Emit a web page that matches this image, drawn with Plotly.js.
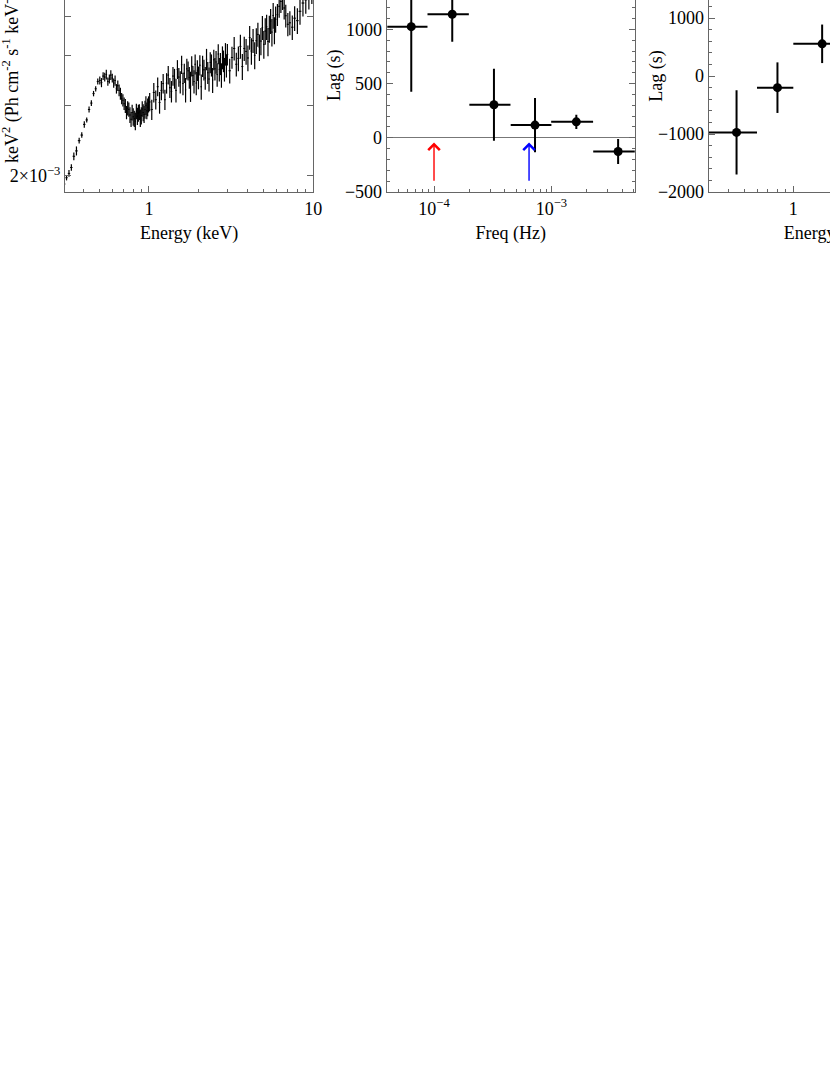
<!DOCTYPE html>
<html>
<head>
<meta charset="utf-8">
<script src="https://cdn.plot.ly/plotly-3.0.1.min.js"></script>
<style>
  html, body { margin: 0; padding: 0; overflow: hidden; background: #fff; }
  #grafico { position: absolute; left: 0; top: -70px; width: 1000px; height: 1145px; }
</style>
</head>
<body>
<div id="grafico"></div>
<script>
// Espectro (keV^2 flux, en unidades de 1e-3)
const energia = [
  0.305, 0.315, 0.326, 0.337, 0.349, 0.362, 0.376, 0.390, 0.404, 0.418, 0.432, 0.446, 0.460, 0.474, 0.488,
  0.502, 0.514, 0.526, 0.538, 0.550, 0.562, 0.574, 0.586, 0.598, 0.610, 0.622, 0.634, 0.646, 0.658,
  0.670, 0.682, 0.694, 0.706, 0.718, 0.730, 0.742, 0.754, 0.766, 0.778, 0.790, 0.802, 0.814, 0.826,
  0.838, 0.850, 0.862, 0.874, 0.886, 0.898, 0.910, 0.922, 0.934, 0.946, 0.958, 0.970, 0.982, 0.994,
  1.01, 1.04, 1.07, 1.10, 1.13, 1.16, 1.19, 1.22, 1.25, 1.28, 1.31, 1.34, 1.37, 1.40, 1.43, 1.46,
  1.49, 1.52, 1.55, 1.58, 1.61, 1.64, 1.67, 1.70, 1.73, 1.76, 1.79, 1.82, 1.85, 1.88, 1.91, 1.94,
  1.97, 2.00, 2.04, 2.08, 2.12, 2.16, 2.20, 2.24, 2.28, 2.32, 2.36, 2.40, 2.44, 2.48, 2.52, 2.56,
  2.60, 2.64, 2.68, 2.72, 2.76, 2.80, 2.84, 2.88, 2.92, 2.96,
  3.0, 3.1, 3.2, 3.3, 3.4, 3.5, 3.6, 3.7, 3.8, 3.9, 4.0, 4.1, 4.2, 4.3, 4.4, 4.5, 4.6, 4.7, 4.8, 4.9,
  5.0, 5.1, 5.2, 5.3, 5.4, 5.5, 5.6, 5.7, 5.8, 5.9,
  6.05, 6.2, 6.35, 6.5, 6.65, 6.8, 7.0, 7.2, 7.45, 7.7, 8.0, 8.3, 8.65, 9.0, 9.4, 9.8
];
const flujo = [
  1.91, 1.98, 2.03, 2.10, 2.24, 2.31, 2.45, 2.53, 2.69, 2.76, 2.93, 3.04, 3.21, 3.30, 3.44,
  3.46, 3.42, 3.55, 3.53, 3.58, 3.44, 3.49, 3.57, 3.51, 3.41, 3.46, 3.30, 3.36, 3.27,
  3.21, 3.12, 3.09, 3.03, 2.99, 2.88, 2.95, 2.93, 2.84, 2.77, 2.88, 2.81, 2.78, 2.74,
  2.90, 2.82, 2.87, 2.89, 2.79, 2.83, 2.94, 2.88, 2.85, 2.93, 3.00, 2.91, 2.97, 3.02,
  3.06, 2.93, 3.23, 3.10, 3.34, 3.05, 3.27, 3.40, 3.10, 3.41, 3.57, 3.32, 3.25, 3.55, 3.50, 3.27,
  3.69, 3.53, 3.43, 3.79, 3.40, 3.61, 3.28, 3.70, 3.66, 3.52, 3.35, 3.76, 3.56, 3.44, 3.80, 3.41,
  3.67, 3.52, 3.78, 3.34, 3.76, 3.68, 3.51, 3.91, 3.62, 3.49, 3.84, 3.78, 3.47, 3.90, 3.70, 3.85,
  3.58, 4.03, 3.69, 3.81, 3.57, 3.95, 3.87, 3.69, 4.03, 3.77,
  4.02, 3.66, 3.95, 4.16, 3.80, 3.93, 4.21, 3.75, 4.16, 4.09, 3.94, 4.43, 4.10, 4.35, 4.00, 4.35, 4.51, 4.19, 4.34, 4.69,
  4.26, 4.60, 4.71, 4.33, 4.66, 4.87, 4.57, 5.03, 4.62, 4.92,
  5.05, 5.30, 5.45, 5.55, 5.25, 5.02, 4.78, 4.82, 4.70, 4.95, 4.88, 5.15, 5.40, 5.50, 5.65, 5.85
];
const errFlujo = [
  0.04, 0.03, 0.04, 0.04, 0.05, 0.06, 0.04, 0.04, 0.05, 0.04, 0.05, 0.05, 0.05, 0.05, 0.06,
  0.08, 0.09, 0.08, 0.09, 0.10, 0.08, 0.09, 0.10, 0.09, 0.09, 0.10, 0.09, 0.10, 0.11,
  0.11, 0.10, 0.11, 0.11, 0.12, 0.11, 0.12, 0.12, 0.13, 0.12, 0.13, 0.14, 0.13, 0.14,
  0.13, 0.14, 0.14, 0.13, 0.14, 0.14, 0.13, 0.14, 0.14, 0.15, 0.16, 0.14, 0.15, 0.14,
  0.16, 0.17, 0.18, 0.17, 0.18, 0.19, 0.18, 0.19, 0.18, 0.20, 0.19, 0.19, 0.20, 0.19, 0.20, 0.22,
  0.20, 0.19, 0.22, 0.20, 0.22, 0.20, 0.23, 0.22, 0.20, 0.22, 0.29, 0.22, 0.20, 0.23, 0.22, 0.23,
  0.22, 0.23, 0.22, 0.24, 0.23, 0.22, 0.23, 0.24, 0.23, 0.24, 0.23, 0.24, 0.25, 0.23, 0.24, 0.25,
  0.24, 0.23, 0.25, 0.24, 0.25, 0.26, 0.24, 0.25, 0.26, 0.25,
  0.25, 0.26, 0.25, 0.28, 0.26, 0.28, 0.29, 0.28, 0.29, 0.30, 0.29, 0.30, 0.31, 0.30, 0.31, 0.32, 0.31, 0.32, 0.34, 0.32,
  0.34, 0.35, 0.34, 0.35, 0.36, 0.35, 0.36, 0.37, 0.36, 0.37,
  0.32, 0.34, 0.35, 0.36, 0.34, 0.33, 0.32, 0.33, 0.33, 0.35, 0.36, 0.38, 0.40, 0.42, 0.45, 0.48
];

// Lag vs frecuencia
const freq = [6.4e-5, 1.43e-4, 3.24e-4, 7.25e-4, 1.63e-3, 3.7e-3];
const freqAncho = [2.4e-5, 5.5e-5, 1.24e-4, 2.75e-4, 6.35e-4, 1.43e-3];
const lagFreq = [1025, 1140, 305, 117, 147, -126];
const errLagFreq = [600, 255, 333, 250, 66, 115];

// Lag vs energía
const energiaLag = [0.45, 0.80, 1.5];
const energiaAncho = [0.15, 0.20, 0.50];
const lagEnergia = [-972, -201, 555];
const errLagEnergia = [727, 436, 332];

// Flechas (frecuencias marcadas)
const flechaRoja = 1e-4;
const flechaAzul = 6.45e-4;

const fuente = "Liberation Serif, Times New Roman, serif";
const gris = "#666";

// ancho de bin a partir de los vecinos
const anchoE = energia.map((e, i) => {
  const a = i > 0 ? energia[i - 1] : e - (energia[1] - e);
  const b = i < energia.length - 1 ? energia[i + 1] : e + (e - energia[i - 1]);
  return (b - a) / 4;
});

function eje(extra) {
  return Object.assign({
    showline: true, linecolor: gris, linewidth: 1, mirror: "ticks",
    ticks: "inside", ticklen: 6, tickwidth: 1, tickcolor: gris,
    showgrid: false, zeroline: false,
    tickfont: { family: fuente, size: 18, color: "#000" }
  }, extra);
}
const minorLog = [0.4, 0.5, 0.6, 0.7, 0.8, 0.9, 2, 3, 4, 5, 6, 7, 8, 9];

const trazas = [
  {
    x: energia, y: flujo.map(v => v * 1e-3),
    error_y: { type: "data", array: errFlujo.map(v => v * 1e-3), color: "#000", thickness: 1.2, width: 0 },
    error_x: { type: "data", array: anchoE, color: "#000", thickness: 1, width: 0 },
    mode: "markers", marker: { size: 1, color: "#000" },
    xaxis: "x", yaxis: "y"
  },
  {
    x: freq, y: lagFreq,
    error_y: { type: "data", array: errLagFreq, color: "#000", thickness: 2, width: 0 },
    error_x: { type: "data", array: freqAncho, color: "#000", thickness: 2, width: 0 },
    mode: "markers", marker: { size: 9, color: "#000" },
    xaxis: "x2", yaxis: "y2"
  },
  {
    x: energiaLag, y: lagEnergia,
    error_y: { type: "data", array: errLagEnergia, color: "#000", thickness: 2, width: 0 },
    error_x: { type: "data", array: energiaAncho, color: "#000", thickness: 2, width: 0 },
    mode: "markers", marker: { size: 9, color: "#000" },
    xaxis: "x3", yaxis: "y3"
  }
];

const tituloEje = (t) => ({ text: t, font: { family: fuente, size: 18, color: "#000" }, standoff: 8 });

const layout = {
  width: 1000, height: 1145,
  margin: { l: 65, r: 43, t: 30, b: 883 },
  paper_bgcolor: "#fff", plot_bgcolor: "#fff",
  showlegend: false,
  xaxis: eje({
    domain: [0, 0.27836], type: "log", range: [-0.511, 1.0],
    tickvals: [1, 10], ticktext: ["1", "10"],
    minor: { tickvals: minorLog, ticks: "inside", ticklen: 3, tickcolor: gris },
    title: tituloEje("Energy (keV)")
  }),
  yaxis: eje({
    type: "log", range: [-2.7389, -2.1603],
    tickvals: [0.002], ticktext: ["2×10<sup>−3</sup>"],
    minor: { tickvals: [0.003, 0.004, 0.005, 0.006, 0.007], ticks: "inside", ticklen: 6, tickcolor: gris }
  }),
  xaxis2: eje({
    domain: [0.36065, 0.63901], anchor: "y2", type: "log", range: [-4.403, -2.288],
    tickvals: [1e-4, 1e-3], ticktext: ["10<sup>−4</sup>", "10<sup>−3</sup>"],
    minor: { tickvals: [5e-5, 6e-5, 7e-5, 8e-5, 9e-5, 2e-4, 3e-4, 4e-4, 5e-4, 6e-4, 7e-4, 8e-4, 9e-4, 2e-3, 3e-3, 4e-3, 5e-3],
             ticks: "inside", ticklen: 3, tickcolor: gris },
    title: tituloEje("Freq (Hz)")
  }),
  yaxis2: eje({
    anchor: "x2", range: [-500, 1640],
    tickvals: [-500, 0, 500, 1000], ticktext: ["−500", "0", "500", "1000"],
    minor: { dtick: 100, tick0: 0, ticks: "inside", ticklen: 3, tickcolor: gris },
    zeroline: true, zerolinecolor: "#777", zerolinewidth: 1
  }),
  xaxis3: eje({
    domain: [0.72163, 1], anchor: "y3", type: "log", range: [-0.517, 1.0],
    tickvals: [1, 10], ticktext: ["1", "10"],
    minor: { tickvals: minorLog, ticks: "inside", ticklen: 3, tickcolor: gris },
    title: tituloEje("Energy (keV)")
  }),
  yaxis3: eje({
    anchor: "x3", range: [-2000, 2000],
    tickvals: [-2000, -1000, 0, 1000], ticktext: ["−2000", "−1000", "0", "1000"],
    minor: { dtick: 200, tick0: 0, ticks: "inside", ticklen: 3, tickcolor: gris }
  }),
  annotations: [
    { xref: "paper", yref: "paper", x: -0.0605, y: 0.1164, xanchor: "center", yanchor: "bottom",
      textangle: -90, showarrow: false,
      text: "keV<sup>2</sup> (Ph cm<sup>-2</sup> s<sup>-1</sup> keV<sup>-1</sup>)",
      font: { family: fuente, size: 18, color: "#000" } },
    { xref: "paper", yref: "paper", x: 0.3016, y: 0.5, xanchor: "center", yanchor: "middle",
      textangle: -90, showarrow: false, text: "Lag (s)",
      font: { family: fuente, size: 18, color: "#000" } },
    { xref: "paper", yref: "paper", x: 0.6622, y: 0.5, xanchor: "center", yanchor: "middle",
      textangle: -90, showarrow: false, text: "Lag (s)",
      font: { family: fuente, size: 18, color: "#000" } },
    { xref: "x2", yref: "y2", axref: "x2", ayref: "y2",
      x: Math.log10(flechaRoja), y: -43, ax: Math.log10(flechaRoja), ay: -411,
      text: "", showarrow: true, arrowhead: 4, arrowsize: 1.6, arrowwidth: 1.4, arrowcolor: "red" },
    { xref: "x2", yref: "y2", axref: "x2", ayref: "y2",
      x: Math.log10(flechaAzul), y: -43, ax: Math.log10(flechaAzul), ay: -411,
      text: "", showarrow: true, arrowhead: 4, arrowsize: 1.6, arrowwidth: 1.4, arrowcolor: "blue" }
  ]
};

Plotly.newPlot("grafico", trazas, layout, { staticPlot: true, displayModeBar: false });
</script>
</body>
</html>
